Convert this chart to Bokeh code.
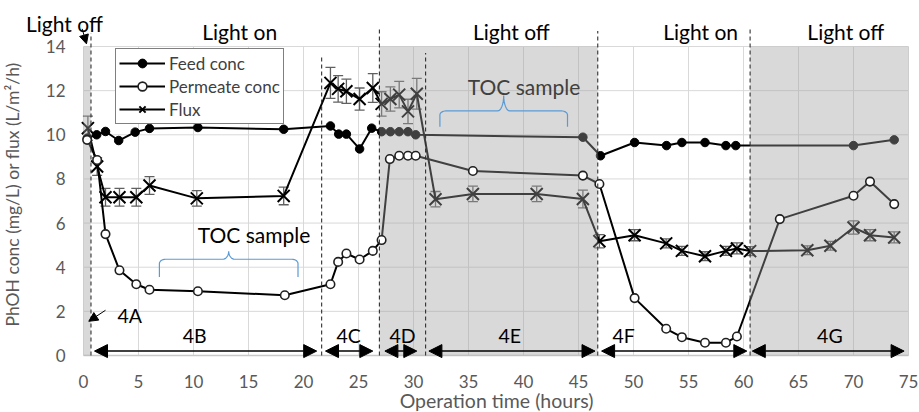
import math
from bokeh.plotting import figure
from bokeh.models import (ColumnDataSource, Whisker, TeeHead, BoxAnnotation, Arrow,
                          NormalHead, Label, Legend, LegendItem, FixedTicker)
from bokeh.embed import file_html
from bokeh.resources import INLINE

FONT = "Lato"

# ---------------- data ----------------
feed_t = [0.35, 1.2, 2.0, 3.2, 4.7, 6.0, 10.4, 18.2, 22.45, 23.2, 23.9, 25.1, 26.2,
          27.1, 27.9, 28.7, 29.5, 30.2, 45.4, 47.0, 50.1, 53.0, 54.4, 56.5, 58.4, 59.3,
          70.0, 73.7]
feed_c = [9.85, 10.0, 10.15, 9.74, 10.12, 10.29, 10.33, 10.25, 10.4, 10.03, 10.03, 9.36, 10.3,
          10.14, 10.14, 10.14, 10.14, 10.0, 9.89, 9.05, 9.65, 9.51, 9.65, 9.65, 9.51, 9.51,
          9.51, 9.77]

perm_t = [0.33, 1.24, 2.0, 3.27, 4.8, 6.0, 10.4, 18.3, 22.45, 23.15, 23.9, 25.1, 26.3, 27.1,
          27.85, 28.7, 29.5, 30.2, 35.4, 45.4, 46.9, 50.1, 52.97, 54.4, 56.5, 58.4, 59.4,
          63.3, 70.0, 71.5, 73.7]
perm_c = [9.77, 8.86, 5.5, 3.86, 3.23, 2.98, 2.91, 2.73, 3.23, 4.24, 4.62, 4.35, 4.74, 5.23,
          8.9, 9.05, 9.05, 9.05, 8.36, 8.15, 7.77, 2.6, 1.21, 0.83, 0.58, 0.58, 0.86,
          6.18, 7.24, 7.88, 6.86]

flux_t = [0.4, 1.24, 2.0, 3.27, 4.8, 6.0, 10.3, 18.2, 22.45, 23.15, 23.9, 25.1, 26.3, 27.1,
          27.9, 28.7, 29.5, 30.3, 32.0, 35.4, 41.2, 45.4, 46.9, 50.1, 52.97, 54.4, 56.5, 58.4,
          59.4, 60.6, 65.8, 67.9, 70.0, 71.5, 73.7]
flux_v = [10.3, 8.56, 7.17, 7.17, 7.17, 7.7, 7.12, 7.23, 12.35, 12.08, 11.97, 11.62, 12.12, 11.4,
          11.62, 11.82, 11.06, 11.86, 7.08, 7.32, 7.32, 7.09, 5.18, 5.45, 5.08, 4.74, 4.5, 4.74,
          4.85, 4.73, 4.77, 4.97, 5.8, 5.45, 5.35]
flux_err = [0.55, 0.4, 0.4, 0.4, 0.4, 0.4, 0.35, 0.4, 0.7, 0.6, 0.55, 0.5, 0.65, 0.55,
            0.55, 0.6, 0.55, 0.7, 0.35, 0.35, 0.35, 0.4, 0.3, 0.25, 0.2, 0.2, 0.2, 0.2,
            0.25, 0.2, 0.2, 0.2, 0.3, 0.25, 0.25]

x_ticks = list(range(0, 76, 5))
y_ticks = list(range(0, 15, 2))
X_MIN, X_MAX = 0, 75
Y_MIN, Y_MAX = 0, 14

# light-off periods (shaded)
dark_start = [0.0, 26.9, 60.6]
dark_end = [0.65, 46.75, 75.0]

# event (dashed) lines and their top extent
event_t = [0.68, 21.65, 26.9, 31.1, 46.75, 60.6]
event_top = [14.6, 13.6, 14.8, 13.7, 14.7, 14.8]

# light status labels
light_text = ["Light off", "Light on", "Light off", "Light on", "Light off"]
light_x = [-1.73, 14.2, 38.9, 56.1, 69.3]
light_y = [15.02, 14.66, 14.66, 14.66, 14.66]

# experimental phases
phase_names = ["4B", "4C", "4D", "4E", "4F", "4G"]
phase_start = [1.0, 22.0, 27.4, 31.4, 47.1, 60.8]
phase_end = [21.2, 26.3, 30.3, 46.5, 60.3, 74.6]
phase_label_x = [10.1, 24.1, 29.0, 38.75, 49.1, 67.85]

# TOC sampling braces
toc_x0 = [6.9, 32.4]
toc_x1 = [19.5, 44.0]
toc_end_y = [3.56, 10.36]
toc_bar_y = [4.36, 11.08]
toc_tip_y = [4.72, 11.78]
toc_text_x = [15.5, 40.05]
toc_text_y = [5.5, 12.2]

# ---------------- figure (frame spans whole canvas; axes pinned at 0) ----------------
PX_X = 11.0
PX_Y = 309.0 / 14.0
p = figure(width=919, height=412,
           x_range=(-83 / PX_X, 836 / PX_X), y_range=(-57 / PX_Y, 355 / PX_Y),
           output_backend="svg", toolbar_location=None,
           min_border_left=0, min_border_right=0, min_border_top=0, min_border_bottom=0)
p.outline_line_color = None
p.background_fill_color = "white"
p.border_fill_color = "white"
p.xgrid.visible = False
p.ygrid.visible = False

p.xaxis.ticker = FixedTicker(ticks=x_ticks)
p.yaxis.ticker = FixedTicker(ticks=y_ticks)
p.xaxis.fixed_location = 0
p.yaxis.fixed_location = 0
p.xaxis.bounds = (X_MIN, X_MAX)
p.yaxis.bounds = (Y_MIN, Y_MAX)
for ax in (p.xaxis, p.yaxis):
    ax.major_tick_line_color = None
    ax.minor_tick_line_color = None
    ax.major_tick_out = 0
    ax.major_tick_in = 0
    ax.minor_tick_out = 0
    ax.major_label_text_font = FONT
    ax.major_label_text_font_size = "17px"
    ax.major_label_text_color = "#595959"
p.yaxis.axis_line_color = None
p.xaxis.axis_line_color = "#c8c8c8"
p.xaxis.axis_line_width = 1.5
p.xaxis.major_label_standoff = 19
p.yaxis.major_label_standoff = 18

# grid lines (from the tick lists)
p.segment(x0=x_ticks, y0=[Y_MIN] * len(x_ticks), x1=x_ticks, y1=[Y_MAX] * len(x_ticks),
          line_color="#d9d9d9", line_width=1, level="underlay")
p.segment(x0=[X_MIN] * len(y_ticks), y0=y_ticks, x1=[X_MAX] * len(y_ticks), y1=y_ticks,
          line_color="#d9d9d9", line_width=1, level="underlay")

# axis titles
p.add_layout(Label(x=37.55, y=-2.04, text="Operation time (hours)", text_align="center",
                   text_baseline="middle", text_font=FONT, text_font_size="19.5px",
                   text_color="#595959"))
p.add_layout(Label(x=-6.45, y=7.3, text="PhOH conc (mg/L) or flux (L/m\u00b2/h)",
                   text_align="center", text_baseline="middle", angle=math.pi / 2,
                   text_font=FONT, text_font_size="17.5px", text_color="#595959"))

# error bars
err_src = ColumnDataSource(dict(t=flux_t,
                                lo=[v - e for v, e in zip(flux_v, flux_err)],
                                hi=[v + e for v, e in zip(flux_v, flux_err)]))
p.add_layout(Whisker(source=err_src, base="t", lower="lo", upper="hi", dimension="height",
                     line_color="#606060", line_width=1.3,
                     lower_head=TeeHead(size=10, line_color="#606060", line_width=1.3),
                     upper_head=TeeHead(size=10, line_color="#606060", line_width=1.3)))

# series
fl = p.line(flux_t, flux_v, line_color="black", line_width=2)
fs = p.scatter(flux_t, flux_v, marker="x", size=17, line_color="black", line_width=2)
dl = p.line(feed_t, feed_c, line_color="black", line_width=2)
ds = p.scatter(feed_t, feed_c, marker="circle", size=8.5, fill_color="black", line_color="black")
pl = p.line(perm_t, perm_c, line_color="black", line_width=2)

# shaded light-off regions (semi-transparent overlay)
for s, e in zip(dark_start, dark_end):
    p.add_layout(BoxAnnotation(left=s, right=e, bottom=Y_MIN, top=Y_MAX, fill_color="#a0a0a0",
                               fill_alpha=0.4, line_alpha=0, level="annotation"))

ps = p.scatter(perm_t, perm_c, marker="circle", size=8.5, fill_color="white",
               line_color="#202020", line_width=1.6, level="overlay")

# event lines
p.segment(x0=event_t, y0=[Y_MIN] * len(event_t), x1=event_t, y1=event_top,
          line_color="#303030", line_width=1.1, line_dash="4 3", level="overlay")

# phase arrows
ph_y = [0.2] * len(phase_names)
ph_src = ColumnDataSource(dict(s=phase_start, e=phase_end, y=ph_y))
p.add_layout(Arrow(source=ph_src, x_start="s", y_start="y", x_end="e", y_end="y",
                   line_color="black", line_width=1.5, level="overlay",
                   start=NormalHead(size=13, fill_color="black", line_color="black"),
                   end=NormalHead(size=13, fill_color="black", line_color="black")))
for name, x in zip(phase_names, phase_label_x):
    p.add_layout(Label(x=x, y=0.92, text=name, text_align="center", text_baseline="middle",
                       text_font=FONT, text_font_size="19.5px", text_color="black"))

# 4A pointer
p.add_layout(Arrow(x_start=2.0, y_start=2.05, x_end=0.48, y_end=1.55, line_color="black",
                   line_width=1, level="overlay",
                   end=NormalHead(size=9, fill_color="black", line_color="black")))
p.add_layout(Label(x=4.2, y=1.82, text="4A", text_align="center", text_baseline="middle",
                   text_font=FONT, text_font_size="19.5px", text_color="black"))

# light labels
for t, x, y in zip(light_text, light_x, light_y):
    p.add_layout(Label(x=x, y=y, text=t, text_align="center", text_baseline="middle",
                       text_font=FONT, text_font_size="21px", text_color="black"))
p.add_layout(Arrow(x_start=-0.12, y_start=14.8, x_end=0.27, y_end=14.12, line_color="black",
                   line_width=1, level="overlay",
                   end=NormalHead(size=9, fill_color="black", line_color="black")))

# TOC braces
def brace_path(x0, x1, ye, yb, yt, rx=0.55):
    xm = (x0 + x1) / 2.0
    ry = (yb - ye) * 0.25
    xs, ys = [x0], [ye]
    n = 8
    for i in range(n + 1):
        a = math.pi / 2 * i / n
        xs.append(x0 + rx - rx * math.cos(a)); ys.append(yb - ry + ry * math.sin(a))
    for i in range(n + 1):
        a = math.pi / 2 * i / n
        xs.append(xm - rx + rx * math.sin(a)); ys.append(yb + (yt - yb) * (1 - math.cos(a)))
    rxs = [2 * xm - v for v in reversed(xs)]
    rys = list(reversed(ys))
    return xs + rxs, ys + rys

for i in range(len(toc_x0)):
    bx, by = brace_path(toc_x0[i], toc_x1[i], toc_end_y[i], toc_bar_y[i], toc_tip_y[i])
    p.line(bx, by, line_color="#5b9bd5", line_width=1.2, level="overlay")
    p.add_layout(Label(x=toc_text_x[i], y=toc_text_y[i], text="TOC sample", text_align="center",
                       text_baseline="middle", text_font=FONT, text_font_size="21px",
                       text_color="black" if i == 0 else "#404040"))

legend = Legend(items=[LegendItem(label="Feed conc", renderers=[dl, ds]),
                       LegendItem(label="Permeate conc", renderers=[pl, ps]),
                       LegendItem(label="Flux", renderers=[fl, fs])],
                location=(115, 288), orientation="vertical")
legend.border_line_color = "black"
legend.border_line_width = 1.5
legend.background_fill_color = "white"
legend.background_fill_alpha = 1
legend.label_text_font = FONT
legend.label_text_font_size = "17px"
legend.label_text_color = "#404040"
legend.glyph_width = 46
legend.glyph_height = 22
legend.label_height = 22
legend.spacing = 1
legend.padding = 3
legend.margin = 0
legend.label_standoff = 4
p.add_layout(legend)

open("out.html", "w").write(file_html(p, INLINE))
